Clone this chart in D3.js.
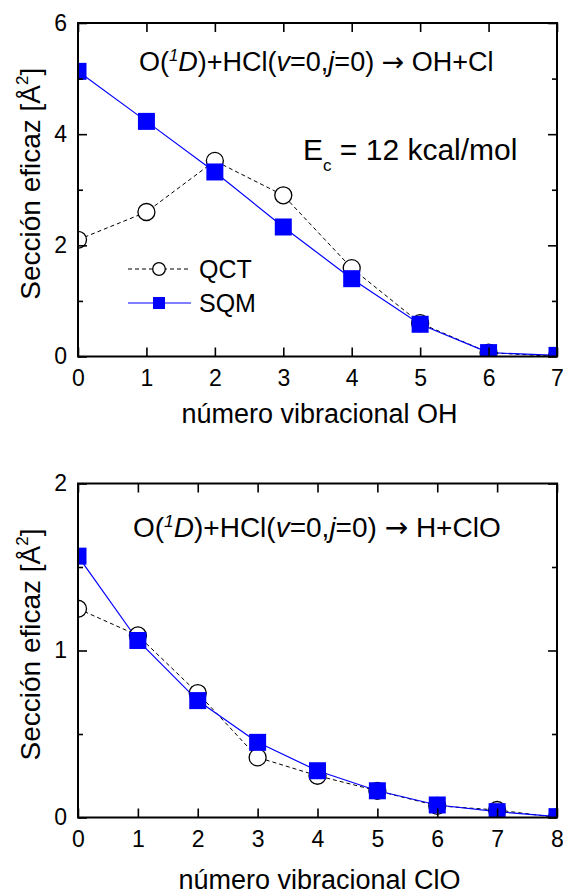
<!DOCTYPE html>
<html>
<head>
<meta charset="utf-8">
<script src="https://cdn.jsdelivr.net/npm/d3@7"></script>
<style>
  html, body { margin: 0; padding: 0; background: #fff; }
  svg { display: block; font-family: Arial, "Liberation Sans", Helvetica, sans-serif; }
</style>
</head>
<body>
<svg id="chart" width="563" height="894"></svg>
<script>
// Vibrational state-resolved cross sections, O(1D)+HCl(v=0,j=0)
const vOH = [0, 1, 2, 3, 4, 5, 6, 7];
const qctOH = [2.10, 2.60, 3.52, 2.90, 1.59, 0.60, 0.07, 0.0];
const sqmOH = [5.13, 4.23, 3.32, 2.33, 1.40, 0.58, 0.07, 0.02];

const vClO = [0, 1, 2, 3, 4, 5, 6, 7, 8];
const qctClO = [1.25, 1.09, 0.745, 0.36, 0.25, 0.16, 0.07, 0.045, 0.0];
const sqmClO = [1.565, 1.06, 0.70, 0.45, 0.28, 0.16, 0.075, 0.035, 0.005];

const yTicksOH = [0, 2, 4, 6];
const yTicksClO = [0, 1, 2];

const svg = d3.select("#chart");
const blue = "#0000ff";

function panel(opts) {
  const { top, bottom, left, right, xMax, yMax, yTicks, yMinor, xs, qct, sqm, xLabel, xLabelY, id } = opts;
  const x = d3.scaleLinear().domain([0, xMax]).range([left, right]);
  const y = d3.scaleLinear().domain([0, yMax]).range([bottom, top]);
  const g = svg.append("g");

  g.append("clipPath").attr("id", id).append("rect")
    .attr("x", left).attr("y", top).attr("width", right - left).attr("height", bottom - top);

  const data = g.append("g").attr("clip-path", `url(#${id})`);
  const line = d3.line().x((d, i) => x(xs[i])).y(d => y(d));

  data.append("path").datum(qct).attr("d", line)
    .attr("fill", "none").attr("stroke", "#000").attr("stroke-width", 1).attr("stroke-dasharray", "4,3");
  data.append("path").datum(sqm).attr("d", line)
    .attr("fill", "none").attr("stroke", blue).attr("stroke-width", 1.2);

  data.selectAll("circle.q").data(qct).join("circle")
    .attr("cx", (d, i) => x(xs[i])).attr("cy", d => y(d)).attr("r", 8.5)
    .attr("fill", "#fff").attr("stroke", "#000").attr("stroke-width", 1.3);
  data.selectAll("rect.s").data(sqm).join("rect")
    .attr("x", (d, i) => x(xs[i]) - 8.5).attr("y", d => y(d) - 8.5)
    .attr("width", 17).attr("height", 17).attr("fill", blue);

  // Axes: ticks pointing inward, mirrored on top and right
  const majorLen = 9, minorLen = 5;
  const styleAxis = sel => {
    sel.select(".domain").remove();
    sel.selectAll(".tick line").attr("stroke", "#000").attr("stroke-width", 1.6);
    sel.selectAll("text").attr("font-size", 23).attr("fill", "#000");
  };
  const xt = d3.range(0, xMax + 1);
  g.append("g").attr("transform", `translate(0,${bottom})`)
    .call(d3.axisBottom(x).tickValues(xt).tickSize(-majorLen).tickPadding(13).tickFormat(d3.format("d")))
    .call(styleAxis);
  g.append("g").attr("transform", `translate(0,${top})`)
    .call(d3.axisTop(x).tickValues(xt).tickSize(-majorLen).tickFormat(""))
    .call(styleAxis);
  g.append("g").attr("transform", `translate(${left},0)`)
    .call(d3.axisLeft(y).tickValues(yTicks).tickSize(-majorLen).tickPadding(11).tickFormat(d3.format("d")))
    .call(styleAxis);
  g.append("g").attr("transform", `translate(${left},0)`)
    .call(d3.axisLeft(y).tickValues(yMinor).tickSize(-minorLen).tickFormat(""))
    .call(styleAxis);
  g.append("g").attr("transform", `translate(${right},0)`)
    .call(d3.axisRight(y).tickValues(yTicks).tickSize(-majorLen).tickFormat(""))
    .call(styleAxis);
  g.append("g").attr("transform", `translate(${right},0)`)
    .call(d3.axisRight(y).tickValues(yMinor).tickSize(-minorLen).tickFormat(""))
    .call(styleAxis);

  g.append("rect").attr("x", left).attr("y", top).attr("width", right - left).attr("height", bottom - top)
    .attr("fill", "none").attr("stroke", "#000").attr("stroke-width", 2);

  // Axis titles
  const yl = g.append("text")
    .attr("transform", `translate(${left - 38},${(top + bottom) / 2 - 6}) rotate(-90)`)
    .attr("text-anchor", "middle").attr("font-size", 28).attr("fill", "#000");
  yl.append("tspan").text("Sección eficaz [Å");
  yl.append("tspan").attr("font-size", 17).attr("dy", -12).text("2");
  yl.append("tspan").attr("dy", 12).text("]");

  g.append("text").attr("x", (left + right) / 2 + 2).attr("y", xLabelY)
    .attr("text-anchor", "middle").attr("font-size", 27).attr("fill", "#000").text(xLabel);

  return { x, y, g };
}

function reactionTitle(g, xPos, yPos, products, size) {
  const t = g.append("text").attr("x", xPos).attr("y", yPos).attr("font-size", size).attr("fill", "#000");
  t.append("tspan").text("O(");
  t.append("tspan").attr("font-size", size * 0.62).attr("font-style", "italic").attr("dy", -10).text("1");
  t.append("tspan").attr("font-style", "italic").attr("dy", 10).text("D");
  t.append("tspan").text(")+HCl(");
  t.append("tspan").attr("font-style", "italic").text("v");
  t.append("tspan").text("=0,");
  t.append("tspan").attr("font-style", "italic").text("j");
  t.append("tspan").text("=0) ");
  t.append("tspan").attr("font-family", "'DejaVu Sans', sans-serif").attr("font-size", size).text("→");
  t.append("tspan").text(" " + products);
}

const panelOH = panel({
  id: "clipOH", top: 23, bottom: 356.5, left: 78, right: 557,
  xMax: 7, yMax: 6, yTicks: yTicksOH, yMinor: [1, 3, 5],
  xs: vOH, qct: qctOH, sqm: sqmOH, xLabel: "número vibracional OH", xLabelY: 423
});
reactionTitle(panelOH.g, 139, 71, "OH+Cl", 27);

const ec = panelOH.g.append("text").attr("x", 303).attr("y", 160).attr("font-size", 30).attr("fill", "#000");
ec.append("tspan").text("E");
ec.append("tspan").attr("font-size", 17).attr("dy", 11).text("c");
ec.append("tspan").attr("dy", -11).text(" = 12 kcal/mol");

// Legend
const legend = [
  { label: "QCT", y: 269, dashed: true },
  { label: "SQM", y: 303, dashed: false }
];
legend.forEach(d => {
  panelOH.g.append("line").attr("x1", 128).attr("x2", 191).attr("y1", d.y).attr("y2", d.y)
    .attr("stroke", d.dashed ? "#000" : blue).attr("stroke-width", d.dashed ? 1 : 1.2)
    .attr("stroke-dasharray", d.dashed ? "4,3" : null);
  if (d.dashed) {
    panelOH.g.append("circle").attr("cx", 159).attr("cy", d.y).attr("r", 6.3)
      .attr("fill", "#fff").attr("stroke", "#000").attr("stroke-width", 1.3);
  } else {
    panelOH.g.append("rect").attr("x", 153).attr("y", d.y - 6).attr("width", 12).attr("height", 12).attr("fill", blue);
  }
  panelOH.g.append("text").attr("x", 199).attr("y", d.y + 9).attr("font-size", 25).attr("fill", "#000").text(d.label);
});

const panelClO = panel({
  id: "clipClO", top: 483.5, bottom: 817.5, left: 78, right: 557,
  xMax: 8, yMax: 2, yTicks: yTicksClO, yMinor: [0.5, 1.5],
  xs: vClO, qct: qctClO, sqm: sqmClO, xLabel: "número vibracional ClO", xLabelY: 889
});
reactionTitle(panelClO.g, 133, 537, "H+ClO", 28);
</script>
</body>
</html>
